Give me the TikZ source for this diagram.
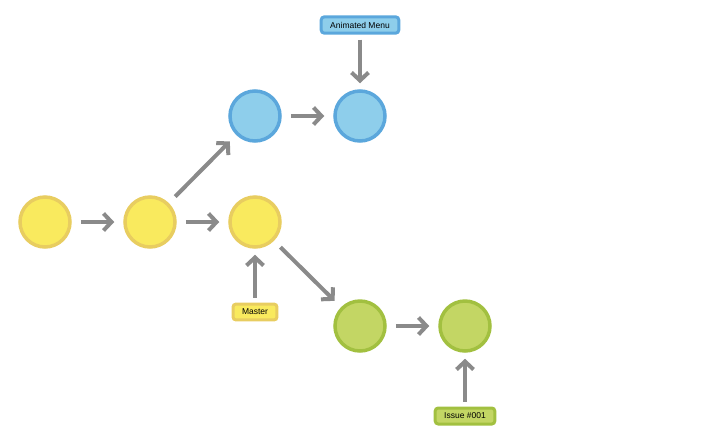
\documentclass[tikz,border=0pt]{standalone}
\usepackage{fontspec}
\setmainfont{Liberation Sans}
\usetikzlibrary{arrows.meta}
\definecolor{ylwfill}{HTML}{F9EA5E}
\definecolor{ylwline}{HTML}{E8CD60}
\definecolor{bluefill}{HTML}{8ECEEB}
\definecolor{blueline}{HTML}{5BA7DC}
\definecolor{grnfill}{HTML}{C3D664}
\definecolor{grnline}{HTML}{A2C040}
\definecolor{arrowgray}{HTML}{8A8A8A}
\tikzset{every picture/.style={line width=0.75pt},
  commit/.style={circle,line width=3.5pt,minimum size=50pt,inner sep=0pt},
  tag/.style={rounded corners=3pt,line width=3pt,font=\fontsize{8.5}{10}\selectfont,inner xsep=9pt,inner ysep=5pt},
  flow/.style={draw=arrowgray,line width=4pt,-{Straight Barb[length=8pt,width=17pt]},shorten >=9pt,shorten <=9pt}}
\begin{document}
\begin{tikzpicture}[x=1pt,y=1pt,yscale=-1,xscale=1]
		\useasboundingbox (0,0) rectangle (719,440);
		
		% Commits
		\node [commit,fill=ylwfill,draw=ylwline] (c1) at (45,222) {};
		\node [commit,fill=ylwfill,draw=ylwline] (c2) at (150,222) {};
		\node [commit,fill=ylwfill,draw=ylwline] (c3) at (255,222) {};
		\node [commit,fill=bluefill,draw=blueline] (b1) at (255,116) {};
		\node [commit,fill=bluefill,draw=blueline] (b2) at (360,116) {};
		\node [commit,fill=grnfill,draw=grnline] (g1) at (360,326) {};
		\node [commit,fill=grnfill,draw=grnline] (g2) at (465,326) {};
		
		% Labels
		\node [tag,fill=bluefill,draw=blueline] (menu) at (360,25) {Animated Menu};
		\node [tag,fill=ylwfill,draw=ylwline] (master) at (255,312) {Master};
		\node [tag,fill=grnfill,draw=grnline] (issue) at (465,416) {Issue \#001};
		
		% Arrows
		\draw [flow] (c1) -- (c2);
		\draw [flow] (c2) -- (c3);
		\draw [flow] (c2) -- (b1);
		\draw [flow] (b1) -- (b2);
		\draw [flow] (c3) -- (g1);
		\draw [flow] (g1) -- (g2);
		\draw [flow,shorten <=5pt,shorten >=6pt] (menu) -- (b2);
		\draw [flow,shorten <=5pt,shorten >=6pt] (master) -- (c3);
		\draw [flow,shorten <=5pt,shorten >=6pt] (issue) -- (g2);
		
\end{tikzpicture}
\end{document}
